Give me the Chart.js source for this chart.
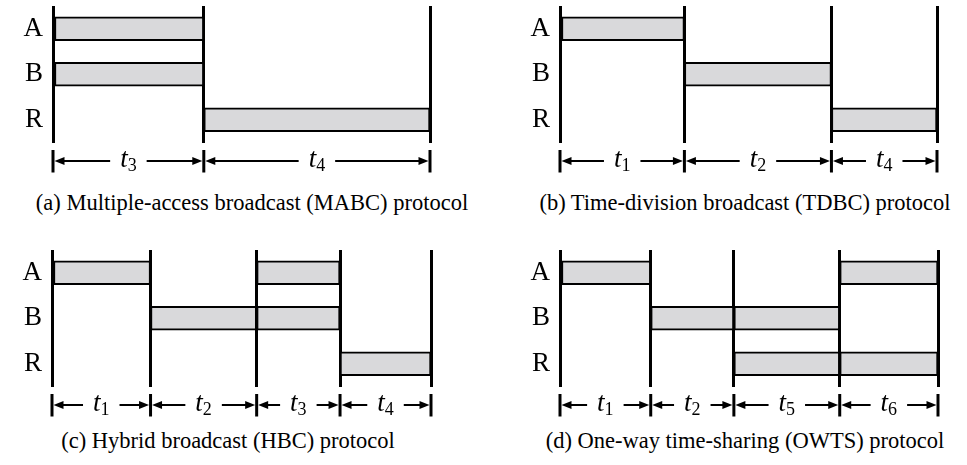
<!DOCTYPE html>
<html>
<head>
<meta charset="utf-8">
<script src="https://cdn.jsdelivr.net/npm/chart.js@4.4.1/dist/chart.umd.min.js"></script>
<style>
  body { margin: 0; background: #fff; }
  #page { position: relative; width: 967px; height: 465px; overflow: hidden; font-family: "Liberation Serif", serif; }
  canvas { position: absolute; }
  .cap { position: absolute; width: 600px; margin-left: -300px; text-align: center; font-size: 22.5px; line-height: 22px; color: #000; white-space: nowrap; }
</style>
</head>
<body>
<div id="page">
  <canvas id="mabc" width="480" height="180" style="left:0;top:0"></canvas>
  <canvas id="tdbc" width="487" height="180" style="left:480px;top:0"></canvas>
  <canvas id="hbc" width="480" height="180" style="left:0;top:244px"></canvas>
  <canvas id="owts" width="487" height="180" style="left:480px;top:244px"></canvas>
  <div class="cap" style="left:252px;top:192px">(a) Multiple-access broadcast (MABC) protocol</div>
  <div class="cap" style="left:745px;top:192px">(b) Time-division broadcast (TDBC) protocol</div>
  <div class="cap" style="left:228px;top:430px">(c) Hybrid broadcast (HBC) protocol</div>
  <div class="cap" style="left:745px;top:430px">(d) One-way time-sharing (OWTS) protocol</div>
</div>
<script>
const nodes = ['A', 'B', 'R'];

// slot boundaries, one frame = 1
const mabcBounds = [0, 0.40, 1];
const tdbcBounds = [0, 0.33, 0.72, 1];
const hbcBounds = [0, 0.26, 0.54, 0.76, 1];
const owtsBounds = [0, 0.24, 0.46, 0.74, 1];

// subscript of t for each slot
const mabcSlots = ['3', '4'];
const tdbcSlots = ['1', '2', '4'];
const hbcSlots = ['1', '2', '3', '4'];
const owtsSlots = ['1', '2', '5', '6'];

// who transmits in each slot
const mabcTx = [['A', 'B'], ['R']];
const tdbcTx = [['A'], ['B'], ['R']];
const hbcTx = [['A'], ['B'], ['A', 'B'], ['R']];
const owtsTx = [['A'], ['B'], ['B', 'R'], ['A', 'R']];

const serif = 'Liberation Serif';

// time axis under the plot: ticks, double arrows and t_n labels
const durations = {
  id: 'durations',
  afterDraw(chart, args, opts) {
    const ctx = chart.ctx;
    const x = chart.scales.x;
    const y0 = chart.chartArea.bottom;
    const ay = y0 + 18.5;
    const b = opts.bounds;
    const tFont = 'italic 27px "' + serif + '"';
    const sFont = '18px "' + serif + '"';
    ctx.save();
    ctx.strokeStyle = '#000';
    ctx.fillStyle = '#000';
    ctx.lineWidth = 3;
    b.forEach(v => {
      const px = x.getPixelForValue(v);
      ctx.beginPath();
      ctx.moveTo(px, y0 + 7.5);
      ctx.lineTo(px, y0 + 30);
      ctx.stroke();
    });
    for (let i = 0; i < b.length - 1; i++) {
      const x1 = x.getPixelForValue(b[i]) + 1.5;
      const x2 = x.getPixelForValue(b[i + 1]) - 1.5;
      const cx = (x1 + x2) / 2;
      ctx.font = tFont;
      const tw = ctx.measureText('t').width;
      ctx.font = sFont;
      const sw = ctx.measureText(opts.slots[i]).width;
      const w = tw + sw;
      const lx = cx - w / 2;
      ctx.font = tFont;
      ctx.fillText('t', lx, y0 + 24.5);
      ctx.font = sFont;
      ctx.fillText(opts.slots[i], lx + tw, y0 + 28);
      const gap = 10;
      ctx.lineWidth = 2;
      ctx.beginPath();
      ctx.moveTo(x1 + 6, ay);
      ctx.lineTo(lx - gap, ay);
      ctx.moveTo(lx + w + gap, ay);
      ctx.lineTo(x2 - 6, ay);
      ctx.stroke();
      ctx.beginPath();
      ctx.moveTo(x1, ay);
      ctx.lineTo(x1 + 10, ay - 4);
      ctx.lineTo(x1 + 10, ay + 4);
      ctx.closePath();
      ctx.moveTo(x2, ay);
      ctx.lineTo(x2 - 10, ay - 4);
      ctx.lineTo(x2 - 10, ay + 4);
      ctx.closePath();
      ctx.fill();
    }
    ctx.restore();
  }
};

function drawProtocol(id, bounds, slots, tx, axisWidth, padRight) {
  const datasets = tx.map((who, i) => ({
    data: nodes.map(n => who.includes(n) ? [bounds[i], bounds[i + 1]] : null),
    backgroundColor: '#d9d9db',
    borderColor: '#000',
    borderWidth: 2,
    borderSkipped: false,
    barThickness: 24,
    grouped: false
  }));
  new Chart(document.getElementById(id), {
    type: 'bar',
    data: { labels: nodes, datasets },
    options: {
      indexAxis: 'y',
      responsive: false,
      animation: false,
      layout: { padding: { top: 6, right: padRight, left: 0, bottom: 0 } },
      scales: {
        x: {
          type: 'linear',
          min: 0,
          max: 1,
          z: 1,
          afterBuildTicks: s => { s.ticks = bounds.map(v => ({ value: v })); },
          afterFit: s => { s.height = 37.5; s.paddingLeft = 0; s.paddingRight = 0; },
          ticks: { display: false },
          grid: { color: '#000', lineWidth: 3, drawTicks: false },
          border: { display: false }
        },
        y: {
          afterFit: s => { s.width = axisWidth; s.paddingTop = 0; s.paddingBottom = 0; },
          grid: { display: false, drawTicks: false },
          border: { display: false },
          ticks: { color: '#000', padding: 10, font: { family: serif, size: 27 } }
        }
      },
      plugins: {
        legend: { display: false },
        tooltip: { enabled: false },
        durations: { bounds, slots }
      }
    },
    plugins: [durations]
  });
}

drawProtocol('mabc', mabcBounds, mabcSlots, mabcTx, 53, 50);
drawProtocol('tdbc', tdbcBounds, tdbcSlots, tdbcTx, 80, 30);
drawProtocol('hbc', hbcBounds, hbcSlots, hbcTx, 52, 49);
drawProtocol('owts', owtsBounds, owtsSlots, owtsTx, 80, 29);
</script>
</body>
</html>
